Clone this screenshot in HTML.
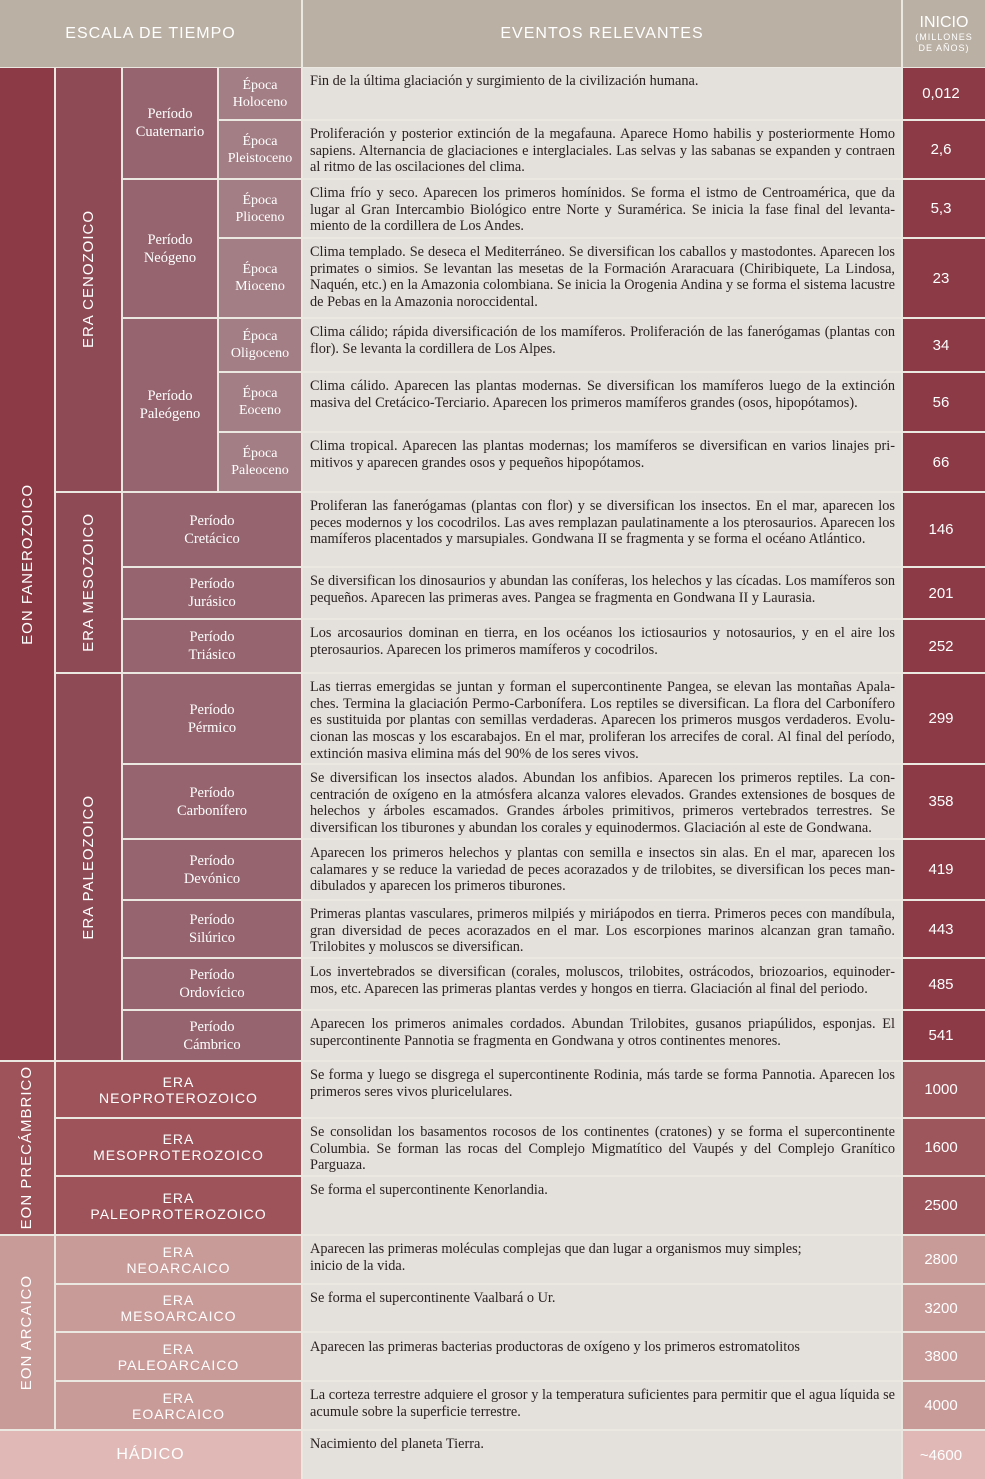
<!DOCTYPE html>
<html><head><meta charset="utf-8"><style>
body{margin:0;background:#ebe7e1;}
#w{position:relative;width:985px;height:1479px;background:#ebe7e1;overflow:hidden;font-family:"Liberation Serif",serif;}
.c{position:absolute;display:flex;align-items:center;justify-content:center;text-align:center;color:#fff;box-sizing:border-box;}
.h{background:#bab0a4;font-family:"Liberation Sans",sans-serif;font-size:16px;letter-spacing:1px;}
.eon{background:#8c3a46;}
.era{background:#8e4a55;}
.per{background:#95646e;font-size:14.5px;line-height:18px;}
.epo{background:#a37e85;font-size:14px;line-height:17px;}
.v{writing-mode:vertical-rl;transform:rotate(180deg);font-family:"Liberation Sans",sans-serif;font-size:15px;letter-spacing:1px;}
.d{position:absolute;left:303px;width:598px;background:#e4e0db;box-sizing:border-box;padding:5px 6px 0 7px;font-size:14.3px;line-height:16.7px;color:#2a2222;text-align:justify;}
.n{font-family:"Liberation Sans",sans-serif;font-size:15px;left:903px;width:82px;padding-right:6px;}
.p1{background:#8c3a46;}
.pc{background:#9e535a;font-family:"Liberation Sans",sans-serif;font-size:14px;letter-spacing:1px;line-height:16px;}
.pcn{background:#9e565d;}
.ar{background:#c89a98;font-family:"Liberation Sans",sans-serif;font-size:14px;letter-spacing:1px;line-height:16px;}
.had{background:#e0b8b6;}
</style></head><body><div id="w">
<div class="c h" style="left:0;top:0;width:301px;height:67px;">ESCALA DE TIEMPO</div>
<div class="c h" style="left:303px;top:0;width:598px;height:67px;">EVENTOS RELEVANTES</div>
<div class="c h" style="left:903px;top:0;width:82px;height:67px;flex-direction:column;line-height:11px;"><span style="font-size:16px;line-height:18px;letter-spacing:0">INICIO</span><span style="font-size:9px;">(MILLONES<br>DE AÑOS)</span></div>

<div class="c eon" style="left:0;top:68px;width:54px;height:992px;"><span class="v">EON FANEROZOICO</span></div>
<div class="c era" style="left:56px;top:68px;width:65px;height:423px;"><span class="v">ERA CENOZOICO</span></div>
<div class="c era" style="left:56px;top:493px;width:65px;height:179px;"><span class="v">ERA MESOZOICO</span></div>
<div class="c era" style="left:56px;top:674px;width:65px;height:386px;"><span class="v">ERA PALEOZOICO</span></div>

<div class="c per" style="left:123px;top:68px;width:94px;height:110px;">Período<br>Cuaternario</div>
<div class="c per" style="left:123px;top:180px;width:94px;height:137px;">Período<br>Neógeno</div>
<div class="c per" style="left:123px;top:319px;width:94px;height:172px;">Período<br>Paleógeno</div>

<div class="c epo" style="left:219px;top:68px;width:82px;height:51px;">Época<br>Holoceno</div>
<div class="c epo" style="left:219px;top:121px;width:82px;height:57px;">Época<br>Pleistoceno</div>
<div class="c epo" style="left:219px;top:180px;width:82px;height:57px;">Época<br>Plioceno</div>
<div class="c epo" style="left:219px;top:239px;width:82px;height:78px;">Época<br>Mioceno</div>
<div class="c epo" style="left:219px;top:319px;width:82px;height:52px;">Época<br>Oligoceno</div>
<div class="c epo" style="left:219px;top:373px;width:82px;height:58px;">Época<br>Eoceno</div>
<div class="c epo" style="left:219px;top:433px;width:82px;height:58px;">Época<br>Paleoceno</div>

<div class="c per" style="left:123px;top:493px;width:178px;height:73px;">Período<br>Cretácico</div>
<div class="c per" style="left:123px;top:568px;width:178px;height:50px;">Período<br>Jurásico</div>
<div class="c per" style="left:123px;top:620px;width:178px;height:52px;">Período<br>Triásico</div>
<div class="c per" style="left:123px;top:674px;width:178px;height:89px;">Período<br>Pérmico</div>
<div class="c per" style="left:123px;top:765px;width:178px;height:73px;">Período<br>Carbonífero</div>
<div class="c per" style="left:123px;top:840px;width:178px;height:59px;">Período<br>Devónico</div>
<div class="c per" style="left:123px;top:901px;width:178px;height:56px;">Período<br>Silúrico</div>
<div class="c per" style="left:123px;top:959px;width:178px;height:50px;">Período<br>Ordovícico</div>
<div class="c per" style="left:123px;top:1011px;width:178px;height:49px;">Período<br>Cámbrico</div>

<div class="c pc" style="left:0;top:1062px;width:54px;height:172px;"><span class="v">EON PRECÁMBRICO</span></div>
<div class="c pc" style="left:56px;top:1062px;width:245px;height:55px;">ERA<br>NEOPROTEROZOICO</div>
<div class="c pc" style="left:56px;top:1119px;width:245px;height:56px;">ERA<br>MESOPROTEROZOICO</div>
<div class="c pc" style="left:56px;top:1177px;width:245px;height:57px;">ERA<br>PALEOPROTEROZOICO</div>

<div class="c ar" style="left:0;top:1236px;width:54px;height:193px;"><span class="v">EON ARCAICO</span></div>
<div class="c ar" style="left:56px;top:1236px;width:245px;height:47px;">ERA<br>NEOARCAICO</div>
<div class="c ar" style="left:56px;top:1285px;width:245px;height:46px;">ERA<br>MESOARCAICO</div>
<div class="c ar" style="left:56px;top:1333px;width:245px;height:47px;">ERA<br>PALEOARCAICO</div>
<div class="c ar" style="left:56px;top:1382px;width:245px;height:47px;">ERA<br>EOARCAICO</div>
<div class="c had" style="left:0;top:1431px;width:301px;height:48px;font-family:'Liberation Sans',sans-serif;font-size:16px;letter-spacing:1px;">HÁDICO</div>

<div class="d" style="top:68px;height:51px;">Fin de la última glaciación y surgimiento de la civilización humana.</div>
<div class="d" style="top:121px;height:57px;">Proliferación y posterior extinción de la megafauna. Aparece Homo habilis y posteriormente Homo sapiens. Alternancia de glaciaciones e interglaciales. Las selvas y las sabanas se expanden y contraen al ritmo de las oscilaciones del clima.</div>
<div class="d" style="top:180px;height:57px;">Clima frío y seco. Aparecen los primeros homínidos. Se forma el istmo de Centroamérica, que da lugar al Gran Intercambio Biológico entre Norte y Suramérica. Se inicia la fase final del levanta­miento de la cordillera de Los Andes.</div>
<div class="d" style="top:239px;height:78px;">Clima templado. Se deseca el Mediterráneo. Se diversifican los caballos y mastodontes. Aparecen los primates o simios. Se levantan las mesetas de la Formación Araracuara (Chiribiquete, La Lindosa, Naquén, etc.) en la Amazonia colombiana. Se inicia la Orogenia Andina y se forma el sistema lacus­tre de Pebas en la Amazonia noroccidental.</div>
<div class="d" style="top:319px;height:52px;">Clima cálido; rápida diversificación de los mamíferos. Proliferación de las fanerógamas (plantas con flor). Se levanta la cordillera de Los Alpes.</div>
<div class="d" style="top:373px;height:58px;">Clima cálido. Aparecen las plantas modernas. Se diversifican los mamíferos luego de la extinción masiva del Cretácico-Terciario. Aparecen los primeros mamíferos grandes (osos, hipopótamos).</div>
<div class="d" style="top:433px;height:58px;">Clima tropical. Aparecen las plantas modernas; los mamíferos se diversifican en varios linajes pri­mitivos y aparecen grandes osos y pequeños hipopótamos.</div>
<div class="d" style="top:493px;height:73px;">Proliferan las fanerógamas (plantas con flor) y se diversifican los insectos. En el mar, aparecen los peces modernos y los cocodrilos. Las aves remplazan paulatinamente a los pterosaurios. Apa­recen los mamíferos placentados y marsupiales. Gondwana II se fragmenta y se forma el océano Atlántico.</div>
<div class="d" style="top:568px;height:50px;">Se diversifican los dinosaurios y abundan las coníferas, los helechos y las cícadas. Los mamíferos son pequeños. Aparecen las primeras aves. Pangea se fragmenta en Gondwana II y Laurasia.</div>
<div class="d" style="top:620px;height:52px;">Los arcosaurios dominan en tierra, en los océanos los ictiosaurios y notosaurios, y en el aire los pterosaurios. Aparecen los primeros mamíferos y cocodrilos.</div>
<div class="d" style="top:674px;height:89px;">Las tierras emergidas se juntan y forman el supercontinente Pangea, se elevan las montañas Apala­ches. Termina la glaciación Permo-Carbonífera. Los reptiles se diversifican. La flora del Carbonífero es sustituida por plantas con semillas verdaderas. Aparecen los primeros musgos verdaderos. Evolu­cionan las moscas y los escarabajos. En el mar, proliferan los arrecifes de coral. Al final del período, extinción masiva elimina más del 90% de los seres vivos.</div>
<div class="d" style="top:765px;height:73px;">Se diversifican los insectos alados. Abundan los anfibios. Aparecen los primeros reptiles. La con­centración de oxígeno en la atmósfera alcanza valores elevados. Grandes extensiones de bosques de helechos y árboles escamados. Grandes árboles primitivos, primeros vertebrados terrestres. Se diversifican los tiburones y abundan los corales y equinodermos. Glaciación al este de Gondwana.</div>
<div class="d" style="top:840px;height:59px;">Aparecen los primeros helechos y plantas con semilla e insectos sin alas. En el mar, aparecen los calamares y se reduce la variedad de peces acorazados y de trilobites, se diversifican los peces man­dibulados y aparecen los primeros tiburones.</div>
<div class="d" style="top:901px;height:56px;">Primeras plantas vasculares, primeros milpiés y miriápodos en tierra. Primeros peces con mandíbu­la, gran diversidad de peces acorazados en el mar. Los escorpiones marinos alcanzan gran tamaño. Trilobites y moluscos se diversifican.</div>
<div class="d" style="top:959px;height:50px;">Los invertebrados se diversifican (corales, moluscos, trilobites, ostrácodos, briozoarios, equinoder­mos, etc. Aparecen las primeras plantas verdes y hongos en tierra. Glaciación al final del periodo.</div>
<div class="d" style="top:1011px;height:49px;">Aparecen los primeros animales cordados. Abundan Trilobites, gusanos priapúlidos, esponjas. El supercontinente Pannotia se fragmenta en Gondwana y otros continentes menores.</div>
<div class="d" style="top:1062px;height:55px;">Se forma y luego se disgrega el supercontinente Rodinia, más tarde se forma Pannotia. Aparecen los primeros seres vivos pluricelulares.</div>
<div class="d" style="top:1119px;height:56px;">Se consolidan los basamentos rocosos de los continentes (cratones) y se forma el supercontinente Columbia. Se forman las rocas del Complejo Migmatítico del Vaupés y del Complejo Granítico Parguaza.</div>
<div class="d" style="top:1177px;height:57px;">Se forma el supercontinente Kenorlandia.</div>
<div class="d" style="top:1236px;height:47px;text-align:left;">Aparecen las primeras moléculas complejas que dan lugar a organismos muy simples;<br>inicio de la vida.</div>
<div class="d" style="top:1285px;height:46px;">Se forma el supercontinente Vaalbará o Ur.</div>
<div class="d" style="top:1333px;height:47px;padding-top:6px;">Aparecen las primeras bacterias productoras de oxígeno y los primeros estromatolitos</div>
<div class="d" style="top:1382px;height:47px;">La corteza terrestre adquiere el grosor y la temperatura suficientes para permitir que el agua líquida se acumule sobre la superficie terrestre.</div>
<div class="d" style="top:1431px;height:48px;">Nacimiento del planeta Tierra.</div>

<div class="c n p1" style="top:68px;height:51px;">0,012</div>
<div class="c n p1" style="top:121px;height:57px;">2,6</div>
<div class="c n p1" style="top:180px;height:57px;">5,3</div>
<div class="c n p1" style="top:239px;height:78px;">23</div>
<div class="c n p1" style="top:319px;height:52px;">34</div>
<div class="c n p1" style="top:373px;height:58px;">56</div>
<div class="c n p1" style="top:433px;height:58px;">66</div>
<div class="c n p1" style="top:493px;height:73px;">146</div>
<div class="c n p1" style="top:568px;height:50px;">201</div>
<div class="c n p1" style="top:620px;height:52px;">252</div>
<div class="c n p1" style="top:674px;height:89px;">299</div>
<div class="c n p1" style="top:765px;height:73px;">358</div>
<div class="c n p1" style="top:840px;height:59px;">419</div>
<div class="c n p1" style="top:901px;height:56px;">443</div>
<div class="c n p1" style="top:959px;height:50px;">485</div>
<div class="c n p1" style="top:1011px;height:49px;">541</div>
<div class="c n pcn" style="top:1062px;height:55px;">1000</div>
<div class="c n pcn" style="top:1119px;height:56px;">1600</div>
<div class="c n pcn" style="top:1177px;height:57px;">2500</div>
<div class="c n" style="top:1236px;height:47px;background:#c89a98;">2800</div>
<div class="c n" style="top:1285px;height:46px;background:#c89a98;">3200</div>
<div class="c n" style="top:1333px;height:47px;background:#c89a98;">3800</div>
<div class="c n" style="top:1382px;height:47px;background:#c89a98;">4000</div>
<div class="c n had" style="top:1431px;height:48px;">~4600</div>
</div></body></html>
